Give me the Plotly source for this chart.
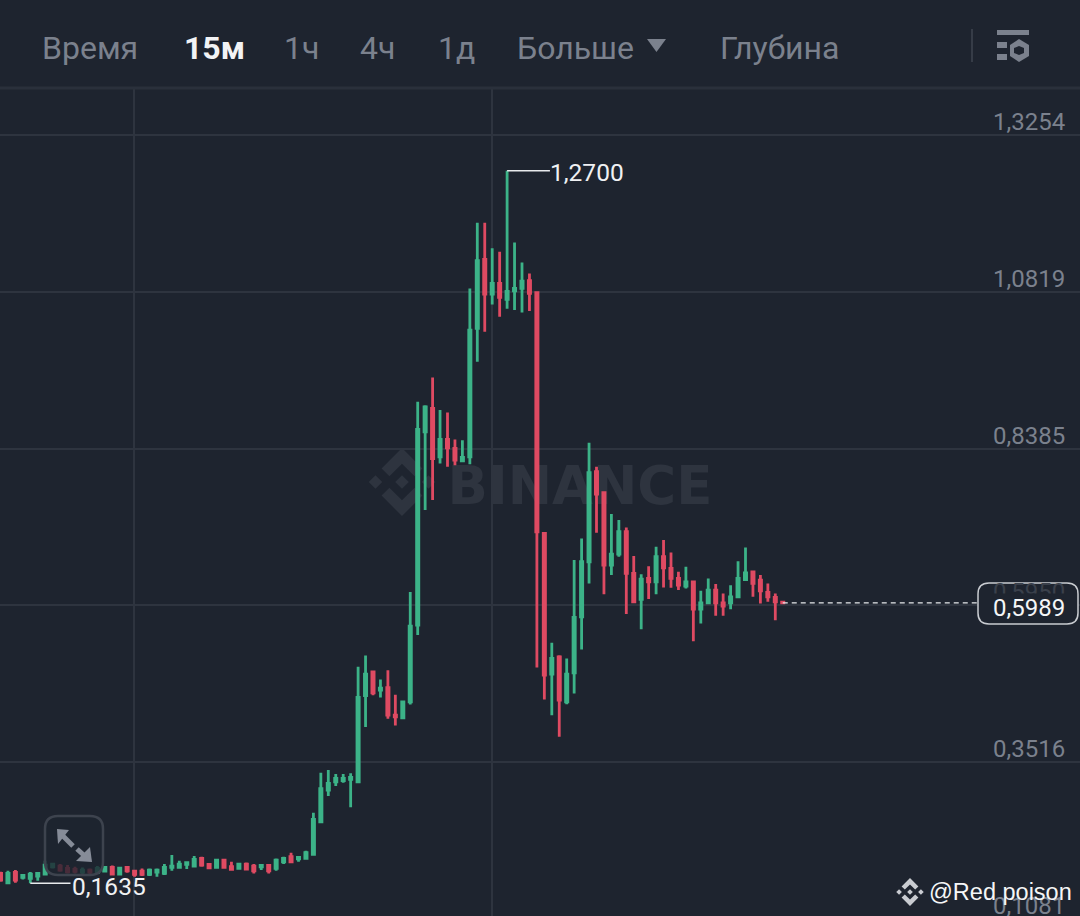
import plotly.graph_objects as go

WIDTH = 1080
HEIGHT = 916
BG = '#1e242f'
GRID = '#2e343f'
MUTED = '#7b818d'
UP = '#3cb388'
DOWN = '#df4a62'

opens = [
    .1787, .1642, .1802, .1725, .1709, .1746, .1777, .1891, .1901, .1865,
    .1849, .1808, .1839, .1802, .1823, .1880, .1777, .1880, .1823, .1823,
    .1771, .1808, .1787, .1880, .1880, .1927, .1901, .2020, .1927, .1880,
    .1994, .1891, .1865, .1932, .1901, .1891, .1911, .1865, .1968, .2046,
    .2015, .2020, .2082, .2590, .3082, .3211, .3227, .3248, .3211, .4550,
    .4918, .4633, .4674, .4245, .4203, .4452, .5643, .8645, .9007, .8257,
    .8526, .8386, .8194, .8257, 1.0251, 1.1323, 1.0784, 1.0950, 1.0701, 1.0836,
    1.0872, 1.0991, 1.0805, .7068, .4882, .5151, .4452, .4902, .5772, .6627,
    .8025, .7699, .6575, .6746, .7093, .6446, .6042, .6368, .6316, .6705,
    .6523, .6368, .6249, .6316, .5891, .5990, .6187, .5990, .5990, .6083,
    .6352, .6471, .6342, .6150, .6073, .6000,
]
highs = [
    .1813, .1828, .1839, .1761, .1808, .1808, .1984, .1953, .1932, .1917,
    .1891, .1880, .1865, .1901, .1901, .1911, .1891, .1891, .1839, .1865,
    .1865, .1865, .1932, .2072, .1984, .1968, .2056, .2046, .1942, .2005,
    .2005, .1968, .1953, .1958, .1932, .1927, .1932, .2020, .2046, .2108,
    .2046, .2139, .2730, .3351, .3393, .3331, .3331, .3341, .4996, .5172,
    .4933, .4799, .4944, .4560, .4467, .6156, .9111, .9059, .9489, .8982,
    .8945, .8526, .8515, 1.0872, 1.1893, 1.1893, 1.1494, 1.1442, 1.2700, 1.1587,
    1.1276, 1.1105, 1.0811, .7078, .5369, .5177, .5125, .6653, .6989, .8476,
    .8103, .7715, .7368, .7274, .7160, .6715, .6435, .6559, .6860, .6964,
    .6772, .6471, .6549, .6326, .6176, .6368, .6280, .6135, .6264, .6637,
    .6850, .6482, .6420, .6290, .6135, .6005,
]
lows = [
    .1658, .1621, .1642, .1694, .1635, .1673, .1761, .1865, .1813, .1787,
    .1787, .1777, .1777, .1777, .1802, .1761, .1761, .1797, .1735, .1746,
    .1746, .1735, .1761, .1828, .1865, .1854, .1891, .1891, .1859, .1865,
    .1865, .1839, .1849, .1839, .1787, .1839, .1787, .1828, .1932, .1953,
    .1968, .2005, .2067, .2574, .2989, .3144, .3196, .2813, .3196, .4063,
    .4555, .4519, .4188, .4084, .4188, .4410, .5488, .7430, .7586, .8153,
    .8101, .8127, .8179, .8142, .9733, 1.0199, 1.0624, 1.0432, 1.0556, 1.0536,
    1.0499, 1.0520, .4985, .4488, .4245, .3908, .4415, .4581, .5265, .6290,
    .7078, .6124, .6420, .6705, .5814, .6005, .5580, .6047, .6124, .6228,
    .6223, .6187, .6212, .5394, .5669, .5979, .5788, .5788, .5891, .6083,
    .6342, .6083, .5979, .6005, .5720, .5985,
]
closes = [
    .1683, .1787, .1683, .1756, .1777, .1787, .1917, .1932, .1839, .1813,
    .1818, .1839, .1808, .1865, .1880, .1777, .1870, .1828, .1771, .1771,
    .1839, .1839, .1880, .1901, .1932, .1953, .2005, .1917, .1875, .1994,
    .1880, .1849, .1932, .1854, .1828, .1911, .1828, .1994, .2020, .1968,
    .2036, .2108, .2626, .3103, .3185, .3263, .3263, .3279, .4519, .4882,
    .4591, .4664, .4244, .4219, .4452, .5628, .8681, .9033, .8230, .8526,
    .8396, .8205, .8246, 1.0225, 1.1302, 1.0784, 1.0950, 1.0732, 1.0826, 1.0872,
    1.0986, 1.0795, .7093, .4866, .5125, .4478, .4882, .5762, .6627, .8010,
    .7678, .6575, .6746, .7093, .6446, .6005, .6357, .6316, .6705, .6534,
    .6368, .6264, .6316, .5891, .5990, .6187, .5990, .5938, .6083, .6368,
    .6456, .6290, .6176, .6083, .6005, .5989,
]
candle_index = list(range(len(closes)))

price_ticks = [1.3254, 1.0819, 0.8385, 0.5950, 0.3516, 0.1081]
price_labels = ['1,3254', '1,0819', '0,8385', '0,5950', '0,3516', '0,1081']
grid_candles = [17.9, 66.0]
menu_labels = ['Время', '15м', '1ч', '4ч', '1д', 'Больше', 'Глубина']
menu_left = [41, 183, 283, 359, 437, 516, 719]

high_index, high_value, high_label = 68, 1.2700, '1,2700'
low_index, low_value, low_label = 4, 0.1635, '0,1635'
last_value, last_label = 0.5989, '0,5989'

X_RANGE = [-0.067, 144.9]
Y_RANGE = [0.1126, 1.5351]


def px(x):
    return x / WIDTH


def py(y):
    return 1 - y / HEIGHT


def price_to_paper(value):
    return (value - Y_RANGE[0]) / (Y_RANGE[1] - Y_RANGE[0])


def paper_path(points):
    return 'M' + ' L'.join(f'{px(x):.5f},{py(y):.5f}' for x, y in points) + ' Z'


def paper_shape(points, color, layer='above'):
    return dict(type='path', xref='paper', yref='paper', path=paper_path(points),
                fillcolor=color, line=dict(width=0), layer=layer)


def logo_shapes(cx, cy, r, color, layer):
    # binance mark: three small diamonds and two chevrons
    parts = [
        [(0, -.2), (.2, 0), (0, .2), (-.2, 0)],
        [(-.78, -.2), (-.58, 0), (-.78, .2), (-.98, 0)],
        [(.78, -.2), (.98, 0), (.78, .2), (.58, 0)],
        [(0, -1), (.6, -.4), (.37, -.17), (0, -.54), (-.37, -.17), (-.6, -.4)],
        [(0, 1), (.6, .4), (.37, .17), (0, .54), (-.37, .17), (-.6, .4)],
    ]
    return [paper_shape([(cx + a * r, cy + b * r) for a, b in part], color, layer) for part in parts]


def rounded_rect(x0, y0, x1, y1, r):
    # elliptical corners, radii given in pixels
    rx, ry = r / WIDTH, r / HEIGHT
    l, t, rt, b = px(x0), py(y0), px(x1), py(y1)
    return (f'M{l + rx:.5f},{t:.5f} L{rt - rx:.5f},{t:.5f} Q{rt:.5f},{t:.5f} {rt:.5f},{t - ry:.5f} '
            f'L{rt:.5f},{b + ry:.5f} Q{rt:.5f},{b:.5f} {rt - rx:.5f},{b:.5f} '
            f'L{l + rx:.5f},{b:.5f} Q{l:.5f},{b:.5f} {l:.5f},{b + ry:.5f} '
            f'L{l:.5f},{t - ry:.5f} Q{l:.5f},{t:.5f} {l + rx:.5f},{t:.5f} Z')


def text(x, y, label, size, color, xanchor='left', yanchor='middle', family='Roboto', **kw):
    return dict(xref='paper', yref='paper', x=x, y=y, text=label, showarrow=False, xanchor=xanchor,
                yanchor=yanchor, font=dict(family=family, size=size, color=color), borderpad=0, **kw)


fig = go.Figure(go.Candlestick(
    x=candle_index, open=opens, high=highs, low=lows, close=closes, whiskerwidth=0,
    increasing=dict(line=dict(color=UP, width=2.8), fillcolor=UP),
    decreasing=dict(line=dict(color=DOWN, width=2.8), fillcolor=DOWN),
    hoverinfo='skip',
))

shapes = []
shapes += logo_shapes(402, 482, 34, '#2e343f', 'below')
shapes.append(dict(type='rect', xref='paper', yref='paper', x0=px(445), x1=px(715), y0=py(509), y1=py(454),
                   line=dict(width=0), fillcolor='rgba(0,0,0,0)', layer='below',
                   label=dict(text='BINANCE', textposition='middle center',
                              font=dict(family='DejaVu Sans', size=53, color='#2e343f', weight='bold'))))

# header strip hides the vertical grid
shapes.append(dict(type='rect', xref='paper', yref='paper', x0=0, x1=1, y0=py(88), y1=1,
                   fillcolor=BG, line=dict(width=0), layer='above'))
shapes.append(dict(type='line', xref='paper', yref='paper', x0=0, x1=1, y0=py(88), y1=py(88),
                   line=dict(color='#2a303b', width=3), layer='above'))
shapes.append(dict(type='line', xref='paper', yref='paper', x0=px(972), x1=px(972), y0=py(29), y1=py(62),
                   line=dict(color='#363c47', width=2), layer='above'))
shapes.append(paper_shape([(647, 39), (666, 39), (656.5, 52)], MUTED))

# settings icon
shapes.append(paper_shape([(997, 30), (1029, 30), (1029, 35), (997, 35)], MUTED))
shapes.append(paper_shape([(997, 42), (1007, 42), (1007, 48), (997, 48)], MUTED))
shapes.append(paper_shape([(997, 54), (1007, 54), (1007, 60), (997, 60)], MUTED))
shapes.append(paper_shape([(1019, 39), (1029, 45), (1029, 56), (1019, 62), (1010, 56), (1010, 45)], MUTED))
shapes.append(paper_shape([(1019, 46), (1024, 48), (1024, 53), (1019, 55), (1014, 53), (1014, 48)], BG))

# expand button
shapes.append(dict(type='path', xref='paper', yref='paper', path=rounded_rect(45, 816, 103, 875, 13),
                   fillcolor='rgba(30,36,47,0.78)', line=dict(color='#3d434e', width=2.5), layer='above'))
shapes.append(paper_shape([(57, 829), (69, 830), (58, 844)], '#868c98'))
shapes.append(paper_shape([(92, 862), (90, 847), (76, 861)], '#868c98'))
shapes.append(dict(type='line', xref='paper', yref='paper', x0=px(62), x1=px(73), y0=py(835), y1=py(846),
                   line=dict(color='#868c98', width=5), layer='above'))
shapes.append(dict(type='line', xref='paper', yref='paper', x0=px(77), x1=px(87), y0=py(849), y1=py(858),
                   line=dict(color='#868c98', width=5), layer='above'))

# high / low leaders, drawn from the data
shapes.append(dict(type='line', x0=high_index, x1=high_index + 5.75, y0=high_value, y1=high_value,
                   line=dict(color='#e8eaed', width=1.5), layer='above'))
shapes.append(dict(type='line', x0=low_index, x1=low_index + 5.4, y0=low_value, y1=low_value,
                   line=dict(color='#e8eaed', width=1.5), layer='above'))

# last price line and its pill
shapes.append(dict(type='line', x0=candle_index[-1], x1=131.2, y0=last_value, y1=last_value,
                   line=dict(color='#e8eaed', width=1.2, dash='5px,4px'), layer='above'))
shapes.append(dict(type='path', xref='paper', yref='paper', path=rounded_rect(978, 583, 1078, 624, 11),
                   fillcolor=BG, line=dict(color='#c9ccd1', width=1.5), layer='above'))

# watermark mark bottom right
shapes += logo_shapes(910, 892, 14, '#c9ccd1', 'above')

annotations = []
for left, label in zip(menu_left, menu_labels):
    active = label == '15м'
    annotations.append(text(px(left), py(48), f'<b>{label}</b>' if active else label, 32,
                            '#f2f3f5' if active else MUTED))

for tick, label in zip(price_ticks, price_labels):
    if tick == 0.5950:
        color = '#3a404b'
    else:
        color = MUTED
    annotations.append(text(px(1066), price_to_paper(tick), label, 24, color, xanchor='right',
                            yanchor='bottom', yshift=-2))

annotations.append(text(px(1066), py(607.5), last_label, 24, '#f5f6f7', xanchor='right', bgcolor=BG))
annotations.append(text(px(549), py(173), high_label, 24.5, '#f0f1f3'))
annotations.append(text(px(71), py(886), low_label, 24.5, '#f0f1f3'))
annotations.append(text(px(928), py(892), '@Red poison', 23.5, '#f5f6f7', family='Liberation Sans'))

fig.update_layout(
    width=WIDTH,
    height=HEIGHT,
    margin=dict(l=0, r=0, t=0, b=0),
    paper_bgcolor=BG,
    plot_bgcolor=BG,
    showlegend=False,
    boxgap=0.58,
    shapes=shapes,
    annotations=annotations,
    xaxis=dict(range=X_RANGE, rangeslider=dict(visible=False), tickmode='array', tickvals=grid_candles,
               showticklabels=False, showgrid=True, gridcolor=GRID, gridwidth=1.5, zeroline=False,
               showline=False, ticks=''),
    yaxis=dict(range=Y_RANGE, tickmode='array', tickvals=price_ticks, showticklabels=False, showgrid=True,
               gridcolor=GRID, gridwidth=1.5, zeroline=False, showline=False, ticks=''),
)

# the page's default body margin would push the chart 8px off the reference
fig.write_html("out.html", config={'displayModeBar': False},
               post_script="document.body.style.margin='0';document.body.style.overflow='hidden';")
